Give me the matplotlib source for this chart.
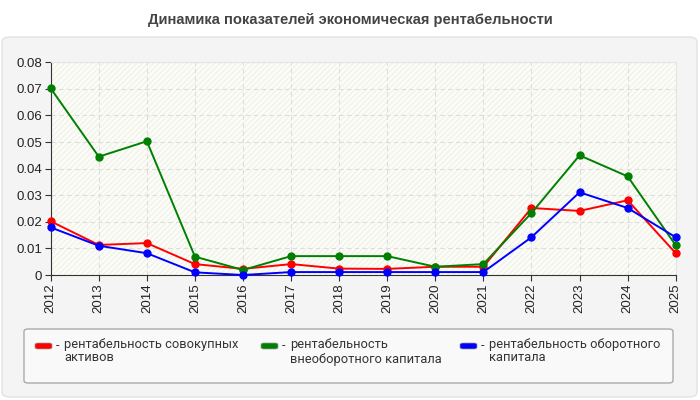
import matplotlib
matplotlib.use("Agg")
from matplotlib import pyplot as plt
from matplotlib.patches import FancyBboxPatch
import numpy as np

years = [2012, 2013, 2014, 2015, 2016, 2017, 2018, 2019, 2020, 2021, 2022, 2023, 2024, 2025]
red_vals = [0.0202, 0.0113, 0.0120, 0.0041, 0.0023, 0.0041, 0.0024, 0.0023, 0.0031, 0.0031, 0.0252, 0.0241, 0.0281, 0.0082]
green_vals = [0.0702, 0.0445, 0.0503, 0.0069, 0.0019, 0.0071, 0.0071, 0.0071, 0.0031, 0.0041, 0.0233, 0.0450, 0.0371, 0.0112]
blue_vals = [0.0179, 0.0110, 0.0082, 0.0010, 0.0000, 0.0011, 0.0011, 0.0011, 0.0011, 0.0011, 0.0142, 0.0311, 0.0252, 0.0142]
yticks = [0, 0.01, 0.02, 0.03, 0.04, 0.05, 0.06, 0.07, 0.08]
ytick_labels = ["0", "0.01", "0.02", "0.03", "0.04", "0.05", "0.06", "0.07", "0.08"]
labels = ["рентабельность совокупных\nактивов",
          "рентабельность\nвнеоборотного капитала",
          "рентабельность оборотного\nкапитала"]
colors = ["#ff0000", "#008000", "#0000ff"]
title = "Динамика показателей экономическая рентабельности"

W, H = 700, 400
fig = plt.figure(figsize=(7, 4), dpi=100)
fig.patch.set_facecolor("white")

# outer rounded panel, behind everything
panel = FancyBboxPatch((2 / W, 3 / H), 695 / W, 360 / H,
                       boxstyle="round,pad=0,rounding_size=0.012",
                       transform=fig.transFigure, facecolor="#f4f4f4",
                       edgecolor="#e2e2e2", linewidth=1, zorder=-10)
fig.patches.append(panel)

fig.text(0.5, 1 - 20 / H, title, ha="center", va="center",
         fontsize=10.6, fontweight="bold", color="#444444", family="Liberation Sans")

# plot area
x0, x1, ytop, ybot = 50.7, 675.7, 62.3, 275
ax = fig.add_axes([x0 / W, 1 - ybot / H, (x1 - x0) / W, (ybot - ytop) / H])
ax.set_facecolor("#fdfdf8")
ax.fill_between([years[0], years[-1]], 0, 0.08, facecolor="none",
                edgecolor="#f2f2ec", hatch="//////", linewidth=0, zorder=0)

for vals, c in zip([red_vals, green_vals, blue_vals], colors):
    ax.plot(years, vals, color=c, lw=1.4, marker="o", ms=5, zorder=3, clip_on=False)

ax.set_xlim(years[0], years[-1])
ax.set_ylim(0, 0.08)
ax.set_xticks(years)
ax.set_xticklabels([str(y) for y in years], rotation=90, fontsize=9.5,
                   family="Liberation Sans", color="#222222")
ax.set_yticks(yticks)
ax.set_yticklabels(ytick_labels, fontsize=9.5, family="Liberation Sans", color="#222222")
ax.grid(True, color="#dddddd", linestyle=(0, (4, 3)), linewidth=0.8)
ax.set_axisbelow(True)
for s in ["top", "right"]:
    ax.spines[s].set_color("#e4e4e4")
for s in ["left", "bottom"]:
    ax.spines[s].set_color("#333333")
ax.tick_params(axis="both", length=4, color="#333333", pad=2)

# legend box
leg = FancyBboxPatch((24 / W, 1 - 383 / H), 649 / W, 54 / H,
                     boxstyle="round,pad=0,rounding_size=0.006",
                     transform=fig.transFigure, facecolor="#f9f9f9",
                     edgecolor="#aaaaaa", linewidth=1)
fig.patches.append(leg)

entry_x = [35, 261, 460]
spacing = [1.0, 1.25, 1.0]
for ex, lab, c, sp in zip(entry_x, labels, colors, spacing):
    sw = FancyBboxPatch((ex / W, 1 - 349 / H), 17 / W, 6 / H,
                        boxstyle="round,pad=0,rounding_size=0.004",
                        transform=fig.transFigure, facecolor=c,
                        edgecolor="#999999", linewidth=0.5)
    fig.patches.append(sw)
    fig.text((ex + 21) / W, 1 - 346 / H, "-", ha="left", va="center",
             fontsize=9.3, color="#333333", family="Roboto")
    fig.text((ex + 29) / W, 1 - 338 / H, lab, ha="left", va="top",
             fontsize=9.3, color="#333333", family="Roboto", linespacing=sp)

fig.savefig("out.png", dpi=100, facecolor="white")
